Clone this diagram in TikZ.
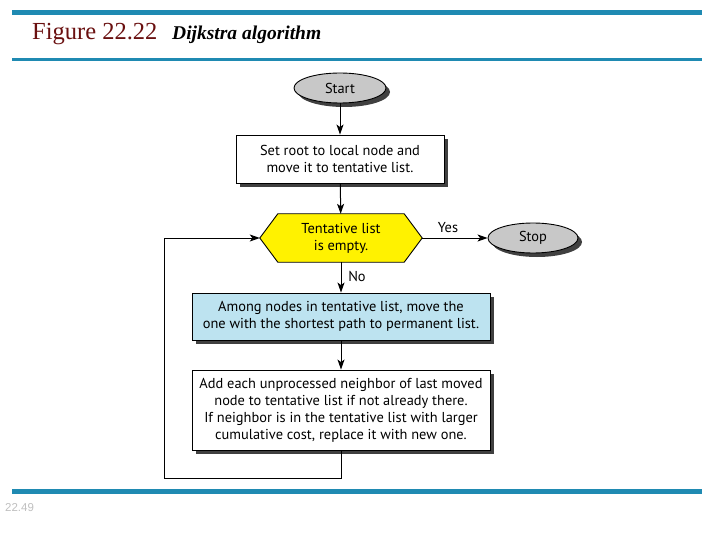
\documentclass[tikz,border=0pt]{standalone}
\usepackage{fontspec}
\setmainfont{Liberation Serif}
\newfontfamily\flowfont{PT Sans}
\newfontfamily\pgfont{Liberation Sans}
\usetikzlibrary{shapes.geometric,shadows,arrows.meta}
\definecolor{barblue}{HTML}{1F8AB2}
\definecolor{titlered}{HTML}{6A1010}
\definecolor{hexyellow}{HTML}{FFF200}
\definecolor{boxblue}{HTML}{BDE3F0}
\definecolor{termgray}{HTML}{C8C8C8}
\tikzset{
  bar/.style={fill=barblue},
  flowtext/.style={font=\flowfont\fontsize{14.4}{17}\selectfont, align=center},
  shad/.style={drop shadow={shadow xshift=4pt, shadow yshift=-4pt, fill=black!75, opacity=1}},
  term/.style={ellipse, draw, line width=0.9pt, fill=termgray, shad, flowtext, inner sep=0pt},
  proc/.style={rectangle, draw, line width=0.9pt, fill=white, shad, flowtext, inner sep=2pt},
  hexa/.style={draw, line width=0.9pt, fill=hexyellow},
  arr/.style={line width=1pt, -{Stealth[length=10pt,width=7pt,inset=2.5pt]}},
  lbl/.style={flowtext}
}
\begin{document}
\begin{tikzpicture}[x=1pt,y=-1pt]
\useasboundingbox (0,0) rectangle (720,540);
\fill[bar] (12,10) rectangle (702,15);
\fill[bar] (12,58.5) rectangle (702,61.5);
\fill[bar] (12,489) rectangle (702,494);
\node[anchor=base west, text=titlered, inner sep=0pt, font=\fontsize{24.5}{24.5}\selectfont] (title) at (32,40) {Figure 22.22};
\node[anchor=base west, inner sep=0pt, font=\fontsize{19.5}{19.5}\selectfont\bfseries\itshape] (sub) at (172,40) {Dijkstra algorithm};
\node[anchor=base west, inner sep=0pt, text=black!25, font=\pgfont\fontsize{11.5}{11.5}\selectfont] (pgnum) at (5,511) {22.49};

\node[term, minimum width=92pt, minimum height=30pt] (start) at (340,88) {Start};
\node[proc, minimum width=208pt, minimum height=48pt] (b1) at (340,159) {Set root to local node and\\move it to tentative list.};
\node[draw=none, minimum width=126pt, minimum height=48pt, inner sep=0pt] (dec) at (341,238) {};
\coordinate (hl) at ([xshift=-18pt]dec.west);
\coordinate (hr) at ([xshift=18pt]dec.east);
\draw[hexa] (hl) -- (dec.north west) -- (dec.north east) -- (hr) -- (dec.south east) -- (dec.south west) -- cycle;
\node[flowtext] (dectext) at (dec.center) {Tentative list\\is empty.};
\node[term, minimum width=90pt, minimum height=30pt] (stop) at (533,238) {Stop};
\node[proc, fill=boxblue, minimum width=298pt, minimum height=47pt] (b2) at (341,316.5) {Among nodes in tentative list, move the\\one with the shortest path to permanent list.};
\node[proc, minimum width=298pt, minimum height=80pt] (b3) at (341,410) {Add each unprocessed neighbor of last moved\\node to tentative list if not already there.\\If neighbor is in the tentative list with larger\\cumulative cost, replace it with new one.};
\coordinate (lp) at (164,478);

\draw[arr] (start) -- (b1);
\draw[arr] (b1) -- (dec);
\draw[arr] (hr) -- (stop);
\node[lbl] (yes) at (448,228) {Yes};
\draw[arr] (dec) -- (b2);
\node[lbl] (no) at (357,276) {No};
\draw[arr] (b2) -- (b3);
\draw[arr] (b3.south) |- (lp) |- (hl);
\end{tikzpicture}
\end{document}
